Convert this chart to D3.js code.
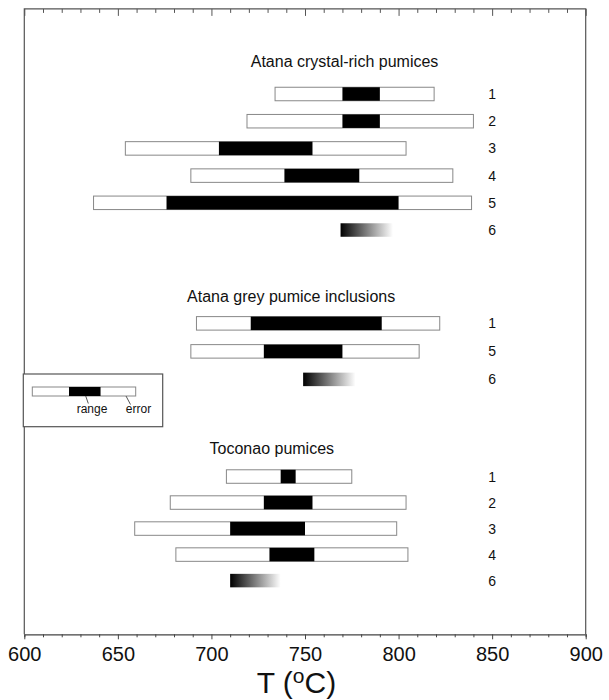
<!DOCTYPE html>
<html>
<head>
<meta charset="utf-8">
<script src="https://cdn.jsdelivr.net/npm/d3@7"></script>
<style>
  body { margin: 0; background: #fff; }
  text { font-family: "Liberation Sans", Arial, sans-serif; fill: #111; }
</style>
</head>
<body>
<div id="chart"></div>
<script>
// Group titles and where they sit (title start in deg C, rows in "row slots")
const groupTitles = ["Atana crystal-rich pumices", "Atana grey pumice inclusions", "Toconao pumices"];
const titleStartT = [721, 687, 699];
const titleSlot = [-1.0, 7.71, 13.33];
const rowStartSlot = [0, 8.49, 14.16];
const rowStep = [1.007, 1.037, 0.963];

// error = outer white box, range = black core, grad = fading estimate
const crystalRich = [
  {label: "1", errLo: 734, errHi: 819, rangeLo: 770, rangeHi: 790},
  {label: "2", errLo: 719, errHi: 840, rangeLo: 770, rangeHi: 790},
  {label: "3", errLo: 654, errHi: 804, rangeLo: 704, rangeHi: 754},
  {label: "4", errLo: 689, errHi: 829, rangeLo: 739, rangeHi: 779},
  {label: "5", errLo: 637, errHi: 839, rangeLo: 676, rangeHi: 800},
  {label: "6", gradLo: 769, gradHi: 797}
];
const greyInclusions = [
  {label: "1", errLo: 692, errHi: 822, rangeLo: 721, rangeHi: 791},
  {label: "5", errLo: 689, errHi: 811, rangeLo: 728, rangeHi: 770},
  {label: "6", gradLo: 749, gradHi: 777}
];
const toconao = [
  {label: "1", errLo: 708, errHi: 775, rangeLo: 737, rangeHi: 745},
  {label: "2", errLo: 678, errHi: 804, rangeLo: 728, rangeHi: 754},
  {label: "3", errLo: 659, errHi: 799, rangeLo: 710, rangeHi: 750},
  {label: "4", errLo: 681, errHi: 805, rangeLo: 731, rangeHi: 755},
  {label: "6", gradLo: 710, gradHi: 737}
];
const groupRows = [crystalRich, greyInclusions, toconao];

const majorTicks = [600, 650, 700, 750, 800, 850, 900];
const minorTicks = d3.range(600, 901, 10);
const labelT = 850;

const width = 609, height = 700;

const svg = d3.select("#chart").append("svg")
  .attr("width", width)
  .attr("height", height);

// x in deg C, y in row slots
const x = d3.scaleLinear().domain([600, 900]).range([24.3, 585.7]);
const y = d3.scaleLinear().domain([0, 20]).range([94, 634.3]);
const ySlotTop = -3.15;
const barH = 13.5;

// gradient for the open-ended estimates
const defs = svg.append("defs");
const grad = defs.append("linearGradient").attr("id", "fade");
grad.append("stop").attr("offset", "0%").attr("stop-color", "#000");
grad.append("stop").attr("offset", "100%").attr("stop-color", "#fff");

/**
 * Frame: top + sides, ticks inward on top, outward at bottom
 */
svg.append("path")
  .attr("d", `M${x(600)},${y(20)}V${y(ySlotTop)}H${x(900)}V${y(20)}`)
  .attr("fill", "none")
  .attr("stroke", "#555")
  .attr("stroke-width", 1.2);

const topAxis = svg.append("g").attr("transform", `translate(0,${y(ySlotTop)})`);
topAxis.call(d3.axisBottom(x).tickValues(minorTicks).tickSize(4).tickFormat(""));
topAxis.call(g => g.selectAll(".tick line").filter(d => d % 50 === 0).attr("y2", 7));
topAxis.select(".domain").remove();
topAxis.selectAll("line").attr("stroke", "#555");

const bottomAxis = svg.append("g").attr("transform", `translate(0,${y(20)})`);
bottomAxis.call(d3.axisBottom(x).tickValues(minorTicks).tickSize(3).tickFormat(""));
bottomAxis.call(g => g.selectAll(".tick line").filter(d => d % 50 === 0).attr("y2", 5));
bottomAxis.select(".domain").attr("stroke", "#444").attr("stroke-width", 1.2);
bottomAxis.selectAll("line").attr("stroke", "#444");

const labelAxis = svg.append("g").attr("transform", `translate(0,${y(20)})`)
  .call(d3.axisBottom(x).tickValues(majorTicks).tickSize(0).tickPadding(13).tickFormat(d3.format("d")));
labelAxis.select(".domain").remove();
labelAxis.selectAll("text")
  .style("font-size", "20px")
  .attr("fill", "#111");

// axis title T (oC)
const xTitle = svg.append("text")
  .attr("x", 256.7)
  .attr("y", 693)
  .style("font-size", "30px");
xTitle.append("tspan").text("T (");
xTitle.append("tspan").attr("dy", -10).style("font-size", "21px").text("o");
xTitle.append("tspan").attr("dy", 10).text("C)");

/**
 * Groups of bars
 */
groupRows.forEach((rows, gi) => {
  const g = svg.append("g");
  const slot = (d, i) => rowStartSlot[gi] + i * rowStep[gi];

  g.append("text")
    .attr("x", x(titleStartT[gi]))
    .attr("y", y(titleSlot[gi]))
    .style("font-size", "16px")
    .text(groupTitles[gi]);

  const row = g.selectAll("g.row")
    .data(rows)
    .enter()
    .append("g")
    .attr("class", "row")
    .attr("transform", (d, i) => `translate(0,${y(slot(d, i))})`);

  // error box
  row.filter(d => d.errLo != null)
    .append("rect")
    .attr("x", d => x(d.errLo))
    .attr("y", -barH / 2)
    .attr("width", d => x(d.errHi) - x(d.errLo))
    .attr("height", barH)
    .attr("fill", "#fff")
    .attr("stroke", "#888")
    .attr("stroke-width", 1);

  // range core
  row.filter(d => d.rangeLo != null)
    .append("rect")
    .attr("x", d => x(d.rangeLo))
    .attr("y", -barH / 2)
    .attr("width", d => x(d.rangeHi) - x(d.rangeLo))
    .attr("height", barH)
    .attr("fill", "#000");

  // fading estimate
  row.filter(d => d.gradLo != null)
    .append("rect")
    .attr("x", d => x(d.gradLo))
    .attr("y", -barH / 2)
    .attr("width", d => x(d.gradHi) - x(d.gradLo))
    .attr("height", barH)
    .attr("fill", "url(#fade)");

  row.append("text")
    .attr("x", x(labelT))
    .attr("y", 5)
    .attr("text-anchor", "middle")
    .style("font-size", "14px")
    .text(d => d.label);
});

/**
 * Legend box
 */
const legendBar = {errLo: 0, errHi: 1, rangeLo: 0.355, rangeHi: 0.66};
const lx = d3.scaleLinear().domain([0, 1]).range([32.3, 135.7]);
const legend = svg.append("g");
legend.append("rect")
  .attr("x", 23.3).attr("y", 374)
  .attr("width", 139.4).attr("height", 52.7)
  .attr("fill", "#fff")
  .attr("stroke", "#555")
  .attr("stroke-width", 1.2);
legend.append("rect")
  .attr("x", lx(legendBar.errLo)).attr("y", 387)
  .attr("width", lx(legendBar.errHi) - lx(legendBar.errLo)).attr("height", 9)
  .attr("fill", "#fff").attr("stroke", "#888");
legend.append("rect")
  .attr("x", lx(legendBar.rangeLo)).attr("y", 387)
  .attr("width", lx(legendBar.rangeHi) - lx(legendBar.rangeLo)).attr("height", 9)
  .attr("fill", "#000");
legend.append("line")
  .attr("x1", 85.7).attr("y1", 396).attr("x2", 88.3).attr("y2", 403.5)
  .attr("stroke", "#555");
legend.append("line")
  .attr("x1", 126).attr("y1", 396).attr("x2", 130.5).attr("y2", 404.5)
  .attr("stroke", "#555");
legend.append("text")
  .attr("x", 92).attr("y", 413)
  .attr("text-anchor", "middle")
  .style("font-size", "12px")
  .text("range");
legend.append("text")
  .attr("x", 138.5).attr("y", 413)
  .attr("text-anchor", "middle")
  .style("font-size", "12px")
  .text("error");
</script>
</body>
</html>
